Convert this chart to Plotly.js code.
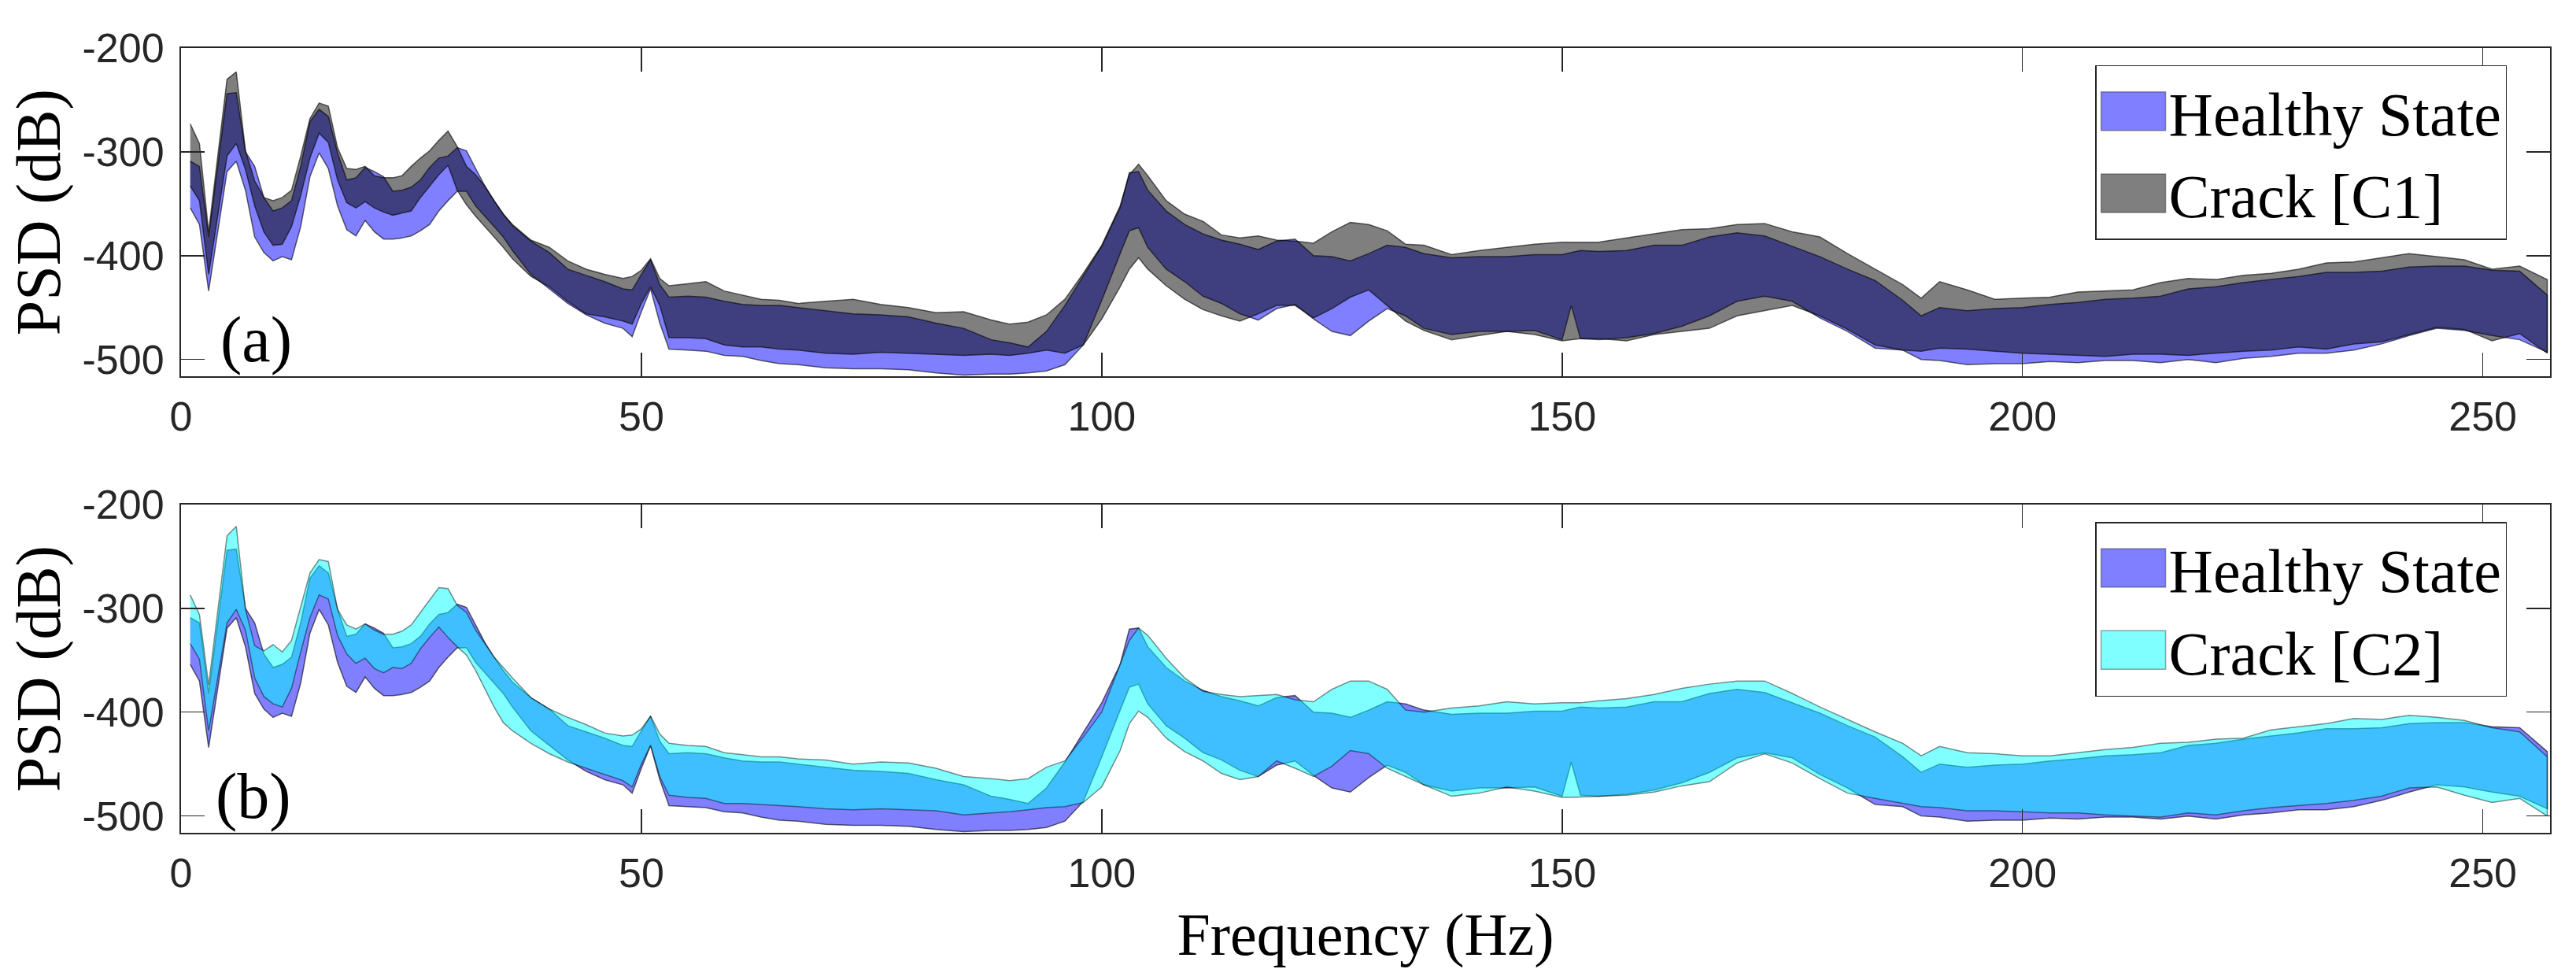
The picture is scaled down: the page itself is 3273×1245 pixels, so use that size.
<!DOCTYPE html>
<html>
<head>
<meta charset="utf-8">
<script src="https://cdn.plot.ly/plotly-3.0.1.min.js"></script>
<style>body{margin:0;background:#fff}</style>
</head>
<body>
<div id="myPlot" style="width:3273px;height:1245px"></div>
<script>
// PSD envelopes (dB), one value per frequency bin
var freq = [1,2,3,5,6,7,8,9,10,11,12,13,14,15,16,
  17,18,19,20,21,22,23,24,25,26,27,28,29,30,31,32,33,34,35,36,
  38,40,42,44,46,48,49,50,51,52,53,55,57,59,61,63,65,67,
  70,73,76,79,82,85,88,90,92,94,96,98,100,102,103,104,105,
  107,109,111,113,115,117,119,121,123,125,127,129,131,133,135,
  138,141,144,147,150,151,152,154,157,160,163,166,169,172,175,178,181,184,187,189,191,
  194,197,200,203,206,209,212,215,218,221,224,227,230,233,236,239,242,245,248,251,254,257];

var healthyUp = [-309,-314,-382,-244,-243,-300,-314,-344,-357,-354,-347,-314,-271,-259,-266,
  -301,-327,-325,-315,-319,-324,-338,-337,-334,-327,-315,-306,-304,-296,-299,-316,-333,-347,-360,-371,
  -386,-397,-413,-419,-425,-432,-433,-418,-404,-428,-440,-439,-440,-444,-447,-448,-448,-450,
  -453,-456,-457,-459,-465,-470,-481,-484,-488,-473,-448,-419,-391,-354,-320,-319,-337,
  -357,-370,-379,-385,-389,-394,-386,-384,-400,-401,-405,-398,-390,-392,-398,
  -402,-401,-401,-399,-399,-397,-395,-396,-395,-390,-390,-382,-378,-381,-391,-401,-413,-424,-443,-458,-450,
  -453,-451,-450,-447,-445,-442,-441,-439,-432,-430,-426,-423,-420,-416,-416,-415,-411,-410,-410,-414,-415,-438];
var healthyLo = [-354,-370,-434,-319,-309,-337,-382,-397,-405,-401,-404,-372,-324,-301,-316,
  -352,-375,-381,-366,-377,-384,-384,-383,-381,-376,-370,-357,-347,-338,-338,-352,-362,-372,-382,-395,
  -418,-432,-446,-457,-465,-470,-478,-454,-432,-465,-490,-491,-492,-496,-497,-501,-504,-505,
  -508,-509,-509,-510,-513,-515,-514,-514,-513,-511,-505,-486,-443,-398,-376,-373,-392,
  -413,-425,-439,-446,-456,-462,-451,-447,-461,-473,-477,-463,-451,-458,-470,
  -476,-473,-473,-472,-481,-448,-480,-481,-479,-475,-468,-458,-444,-439,-444,-460,-473,-489,-491,-500,-501,
  -505,-504,-504,-502,-503,-501,-501,-503,-500,-503,-499,-497,-494,-494,-491,-485,-477,-470,-472,-477,-481,-493];

var crack1Up = [-273,-292,-377,-230,-223,-299,-328,-344,-347,-344,-337,-304,-268,-253,-256,
  -296,-316,-317,-314,-323,-325,-325,-323,-314,-306,-299,-289,-280,-295,-314,-322,-333,-347,-360,-370,
  -385,-392,-405,-413,-418,-422,-420,-414,-403,-422,-429,-427,-425,-434,-438,-442,-443,-446,
  -444,-442,-447,-450,-455,-454,-462,-466,-464,-457,-442,-417,-390,-352,-322,-312,-323,
  -347,-360,-367,-380,-383,-381,-385,-386,-388,-377,-368,-370,-376,-389,-390,
  -399,-395,-392,-389,-387,-387,-387,-387,-383,-379,-375,-374,-370,-369,-377,-382,-398,-413,-428,-441,-425,
  -433,-442,-441,-440,-435,-434,-433,-426,-422,-423,-419,-417,-413,-407,-406,-402,-398,-401,-404,-413,-410,-423];
var crack1Lo = [-333,-347,-418,-304,-292,-317,-352,-377,-390,-389,-372,-342,-306,-282,-291,
  -327,-349,-354,-348,-354,-358,-361,-359,-357,-344,-333,-322,-313,-337,-351,-362,-372,-382,-392,-403,
  -420,-430,-444,-456,-459,-463,-466,-446,-430,-448,-479,-479,-480,-486,-488,-488,-490,-491,
  -494,-495,-493,-494,-495,-496,-495,-496,-494,-491,-494,-486,-461,-430,-413,-402,-413,
  -429,-442,-452,-458,-463,-456,-448,-448,-460,-451,-440,-433,-448,-463,-472,
  -481,-477,-473,-476,-482,-481,-480,-480,-482,-476,-473,-470,-458,-453,-448,-458,-471,-486,-491,-492,-489,
  -490,-492,-494,-495,-496,-497,-495,-495,-496,-494,-492,-491,-488,-490,-485,-483,-476,-469,-471,-482,-475,-494];

var crack2Up = [-287,-306,-374,-230,-221,-301,-336,-341,-335,-342,-331,-299,-266,-253,-255,
  -301,-316,-320,-315,-321,-325,-325,-322,-316,-304,-292,-280,-281,-297,-304,-321,-334,-347,-357,-367,
  -386,-397,-405,-412,-420,-423,-422,-416,-404,-421,-430,-432,-433,-439,-441,-443,-443,-445,
  -446,-450,-448,-449,-454,-462,-464,-466,-464,-453,-447,-424,-400,-355,-331,-319,-326,
  -348,-367,-380,-383,-385,-384,-383,-388,-390,-378,-370,-370,-378,-398,-400,
  -396,-394,-390,-392,-391,-391,-391,-389,-387,-383,-377,-373,-370,-370,-382,-395,-407,-419,-430,-442,-433,
  -439,-440,-442,-442,-439,-436,-434,-430,-429,-426,-425,-417,-414,-411,-406,-407,-403,-405,-408,-415,-419,-443];
var crack2Lo = [-334,-349,-418,-314,-301,-321,-367,-385,-392,-395,-377,-342,-309,-287,-291,
  -326,-344,-353,-348,-358,-362,-357,-358,-353,-339,-328,-318,-328,-337,-345,-360,-378,-395,-410,-418,
  -430,-440,-448,-454,-460,-466,-472,-450,-432,-462,-480,-482,-483,-488,-488,-489,-490,-491,
  -493,-494,-493,-494,-495,-499,-497,-496,-494,-492,-491,-487,-472,-437,-411,-399,-405,
  -425,-438,-447,-459,-465,-462,-447,-454,-462,-452,-437,-440,-454,-462,-470,
  -481,-478,-472,-476,-482,-482,-482,-481,-480,-477,-471,-467,-449,-440,-449,-464,-478,-483,-488,-491,-492,
  -495,-495,-496,-497,-497,-499,-500,-501,-497,-499,-495,-492,-490,-488,-485,-481,-473,-472,-480,-487,-483,-500];

var xTicks = [0, 50, 100, 150, 200, 250];
var yTicks = [-500, -400, -300, -200];
var yTickText = ["-500", "-400", "-300", "-200"];   // plain hyphen like the original

var serif = "Liberation Serif, Times New Roman, serif";
var sans = "Liberation Sans, Arial, sans-serif";
var ink = "#262626";

// closed polygon: upper edge left to right, lower edge back
function band(up, lo, name, fillcol, edgecol, xa, ya, leg) {
  var back = freq.slice().reverse();
  return {
    x: freq.concat(back),
    y: up.concat(lo.slice().reverse()),
    type: "scatter", mode: "lines",
    fill: "toself", fillcolor: fillcol,
    line: {color: edgecol, width: 1.5},
    name: name, xaxis: xa, yaxis: ya, legend: leg,
    hoverinfo: "skip"
  };
}

var data = [
  band(healthyUp, healthyLo, "Healthy State", "rgba(0,0,255,0.5)", "rgba(0,0,0,0.6)", "x", "y", "legend"),
  band(crack1Up, crack1Lo, "Crack [C1]", "rgba(0,0,0,0.5)", "rgba(0,0,0,0.6)", "x", "y", "legend"),
  band(healthyUp, healthyLo, "Healthy State", "rgba(0,0,255,0.5)", "rgba(0,0,0,0.6)", "x2", "y2", "legend2"),
  band(crack2Up, crack2Lo, "Crack [C2]", "rgba(0,255,255,0.5)", "rgba(0,0,0,0.45)", "x2", "y2", "legend2")
];

function xAxis(anchor, title) {
  var ax = {
    anchor: anchor, range: [0, 257.3], tickvals: xTicks,
    ticks: "inside", ticklen: 30, tickwidth: 1.5, tickcolor: ink,
    showline: true, linecolor: ink, linewidth: 2, mirror: "ticks",
    showgrid: false, zeroline: false,
    tickfont: {family: sans, size: 52, color: ink},
    ticklabelstandoff: 5
  };
  if (title) ax.title = {text: title, font: {family: serif, size: 76, color: "#000"}, standoff: 22};
  return ax;
}
function yAxis(anchor, dom) {
  return {
    anchor: anchor, domain: dom, range: [-516.2, -200],
    tickvals: yTicks, ticktext: yTickText,
    ticks: "inside", ticklen: 30, tickwidth: 1.5, tickcolor: ink,
    showline: true, linecolor: ink, linewidth: 2, mirror: "ticks",
    showgrid: false, zeroline: false,
    tickfont: {family: sans, size: 52, color: ink},
    ticklabelstandoff: 9,
    title: {text: "PSD (dB)", font: {family: serif, size: 80, color: "#000"}, standoff: 2}
  };
}
function legendBox(ytop) {
  return {
    x: 0.808, y: ytop, xanchor: "left", yanchor: "top",
    bgcolor: "#fff", bordercolor: ink, borderwidth: 1.5,
    font: {family: serif, size: 78, color: "#000"},
    itemwidth: 82, tracegroupgap: 0
  };
}

var layout = {
  width: 3273, height: 1245,
  margin: {l: 230, r: 33, t: 61, b: 187},
  paper_bgcolor: "#fff", plot_bgcolor: "#fff",
  showlegend: true,
  xaxis: xAxis("y"),
  yaxis: yAxis("x", [0.5817, 1]),
  xaxis2: xAxis("y2", "Frequency (Hz)"),
  yaxis2: yAxis("x2", [0, 0.4183]),
  legend: legendBox(0.978),
  legend2: legendBox(0.396),
  annotations: [
    {text: "(a)", x: 8.2, y: -481, xref: "x", yref: "y", showarrow: false,
     font: {family: serif, size: 82, color: "#000"}},
    {text: "(b)", x: 7.9, y: -481, xref: "x2", yref: "y2", showarrow: false,
     font: {family: serif, size: 82, color: "#000"}}
  ]
};

// matlab style legend patches are big squares, plotly draws thin strips
function bigSwatches() {
  document.querySelectorAll("#myPlot .legendfill path").forEach(function (p) {
    p.setAttribute("d", "M6,-25h82v49h-82z");
    p.style.stroke = "rgba(0,0,0,0.35)";
    p.style.strokeWidth = "1.5px";
  });
  document.querySelectorAll("#myPlot .legendlines path").forEach(function (p) {
    p.style.display = "none";
  });
}

Plotly.newPlot("myPlot", data, layout, {displayModeBar: false, staticPlot: true}).then(bigSwatches);
</script>
</body>
</html>
